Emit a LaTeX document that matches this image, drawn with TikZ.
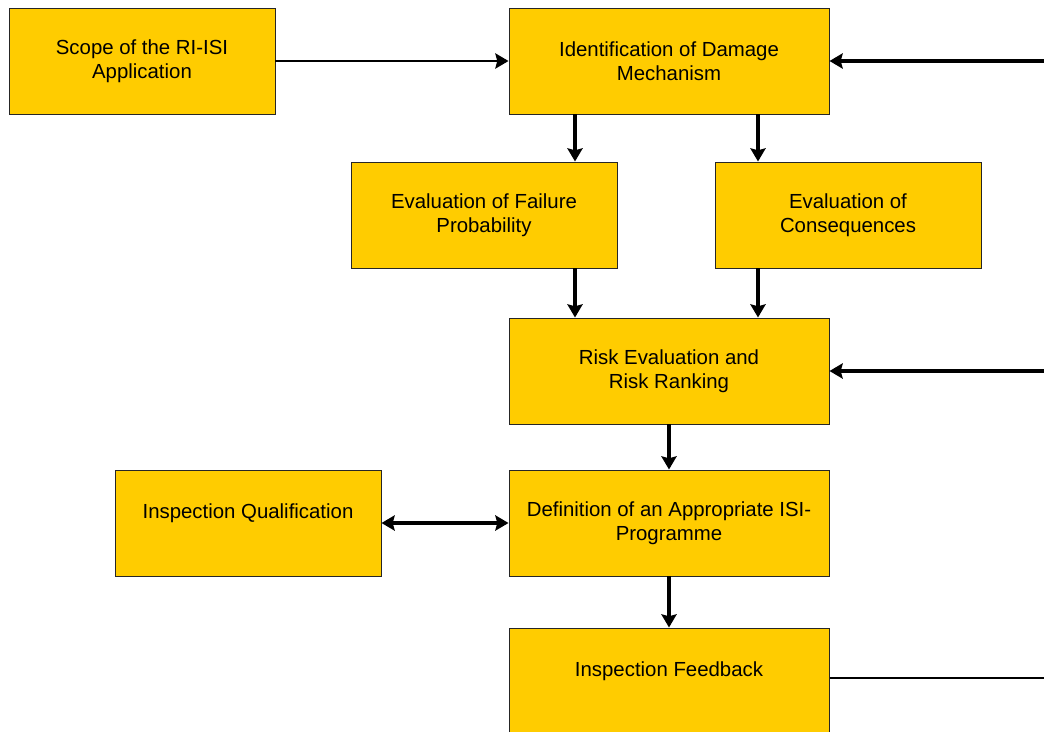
\documentclass[tikz,border=0pt]{standalone}
\usepackage{fontspec}
\setmainfont{Liberation Sans}
\usepackage{xcolor}
\usepackage{tikz}
\usetikzlibrary{shapes,positioning,arrows.meta}
\definecolor{boxyellow}{HTML}{FFCC00}
\tikzset{blk/.style={rectangle,draw=black!85,fill=boxyellow,line width=0.7pt,minimum width=6.65cm,minimum height=2.65cm,inner sep=0pt,align=center,font=\fontsize{14.5}{17}\selectfont}}
\tikzset{wide/.style={blk,minimum width=8cm}}
\tikzset{arr/.style={->,line width=2.4pt}}

\begin{document}
\begin{tikzpicture}[>={Stealth[length=0.33cm,width=0.38cm,inset=0.05cm]}]
        \useasboundingbox (0,0) rectangle (26.1,-18.275);
        \node[blk] (a) at (3.55,-1.525) {Scope of the RI-ISI\\Application};
        \node[wide] (b) at (16.725,-1.525) {Identification of Damage\\Mechanism};
        \node[blk] (c) at (12.1,-5.375) {Evaluation of Failure\\Probability};
        \node[blk] (d) at (21.2,-5.375) {Evaluation of\\Consequences};
        \node[wide] (e) at (16.725,-9.275) {Risk Evaluation and\\Risk Ranking};
        \node[blk] (f) at (6.2,-13.075) {Inspection Qualification\\\mbox{}};
        \node[wide] (g) at (16.725,-13.075) {Definition of an Appropriate ISI-\\Programme};
        \node[wide] (h) at (16.725,-17.025) {Inspection Feedback\\\mbox{}};

        \coordinate (xl) at (14.375,0);
        \coordinate (xr) at (18.95,0);
        \coordinate (r1) at (26.1,-1.525);
        \coordinate (r2) at (26.1,-9.275);
        \coordinate (r3) at (26.1,-16.95);

        \draw [->,line width=1.8pt] (a) to [] (b);
        \draw [arr] (r1) to [] (b.east);
        \draw [arr] (b.south -| xl) to [] (c.north -| xl);
        \draw [arr] (b.south -| xr) to [] (d.north -| xr);
        \draw [arr] (c.south -| xl) to [] (e.north -| xl);
        \draw [arr] (d.south -| xr) to [] (e.north -| xr);
        \draw [arr] (r2) to [] (e.east);
        \draw [arr] (e) to [] (g);
        \draw [arr,<->] (f) to [] (g);
        \draw [arr] (g) to [] (h);
        \draw [line width=1.8pt] (h.east |- r3) to [] (r3);
    \end{tikzpicture}
\end{document}
